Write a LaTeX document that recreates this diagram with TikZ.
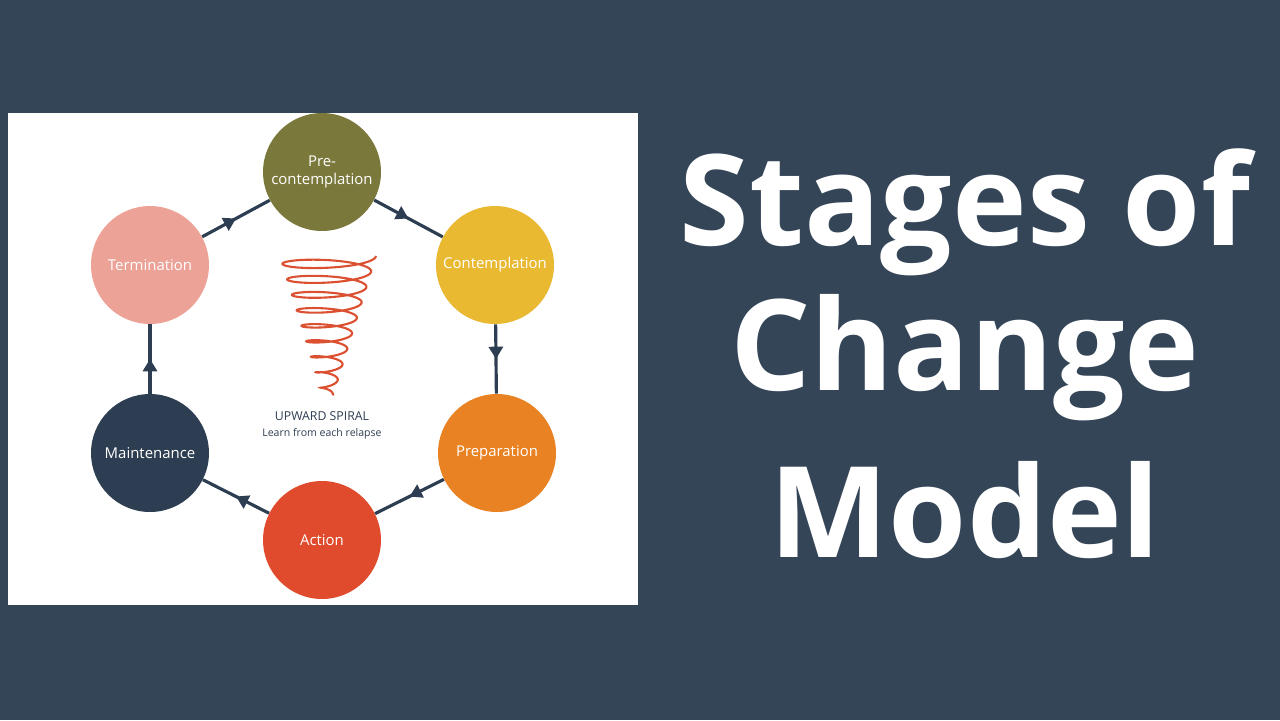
\documentclass[tikz,border=0pt]{standalone}
\usepackage{fontspec}
\setmainfont{Open Sans}
\usetikzlibrary{decorations.markings,arrows.meta}
\definecolor{bg}{RGB}{52,69,88}
\definecolor{cpre}{RGB}{122,120,58}
\definecolor{ccon}{RGB}{234,185,50}
\definecolor{cprep}{RGB}{232,130,35}
\definecolor{cact}{RGB}{224,75,45}
\definecolor{cmain}{RGB}{46,62,82}
\definecolor{cterm}{RGB}{236,162,150}
\definecolor{cline}{RGB}{46,62,82}
\definecolor{cspiral}{RGB}{220,80,50}
\tikzset{
  stage/.style={circle,minimum size=2.36cm,inner sep=0pt,text=white,font=\fontsize{8.5}{10}\selectfont,align=center},
  conn/.style={draw=cline,line width=1.8pt,postaction={decorate},decoration={markings,mark=at position 0.5 with {\arrow{Triangle[length=7pt,width=8pt]}}}},
  title/.style={text=white,font=\fontsize{72}{80}\selectfont\bfseries}
}
\begin{document}
\begin{tikzpicture}[x=0.02cm,y=-0.02cm]
\fill[bg] (0,0) rectangle (1280,720);
\useasboundingbox (0,0) rectangle (1280,720);
\fill[white] (8,113) rectangle (638,605);
\node[stage,fill=cpre] (pre) at (322,172) {Pre-\\contemplation};
\node[stage,fill=ccon] (con) at (495,265) {Contemplation};
\node[stage,fill=cprep] (prep) at (497,453) {Preparation};
\node[stage,fill=cact] (act) at (322,540) {Action};
\node[stage,fill=cmain] (main) at (150,453) {Maintenance};
\node[stage,fill=cterm] (term) at (150,265) {Termination};
\draw[conn] (pre) -- (con);
\draw[conn] (con) -- (prep);
\draw[conn] (prep) -- (act);
\draw[conn] (act) -- (main);
\draw[conn] (main) -- (term);
\draw[conn] (term) -- (pre);
\draw[cspiral,line width=1.2pt,smooth,samples=400,domain=0:9]
  plot ({328+(48-4.78*\x)*cos(360*\x)},{256+15.5*\x+(8-0.67*\x)*sin(360*\x)});
\node[font=\fontsize{7}{8}\selectfont,text=cline,align=center] (sp) at (322,425) {UPWARD SPIRAL\\[1pt]{\fontsize{6}{7}\selectfont Learn from each relapse}};
\node[title] (t1) at (965,212) {Stages of};
\node[title] (t2) at (965,358) {Change};
\node[title] (t3) at (965,510) {Model};
\end{tikzpicture}
\end{document}
